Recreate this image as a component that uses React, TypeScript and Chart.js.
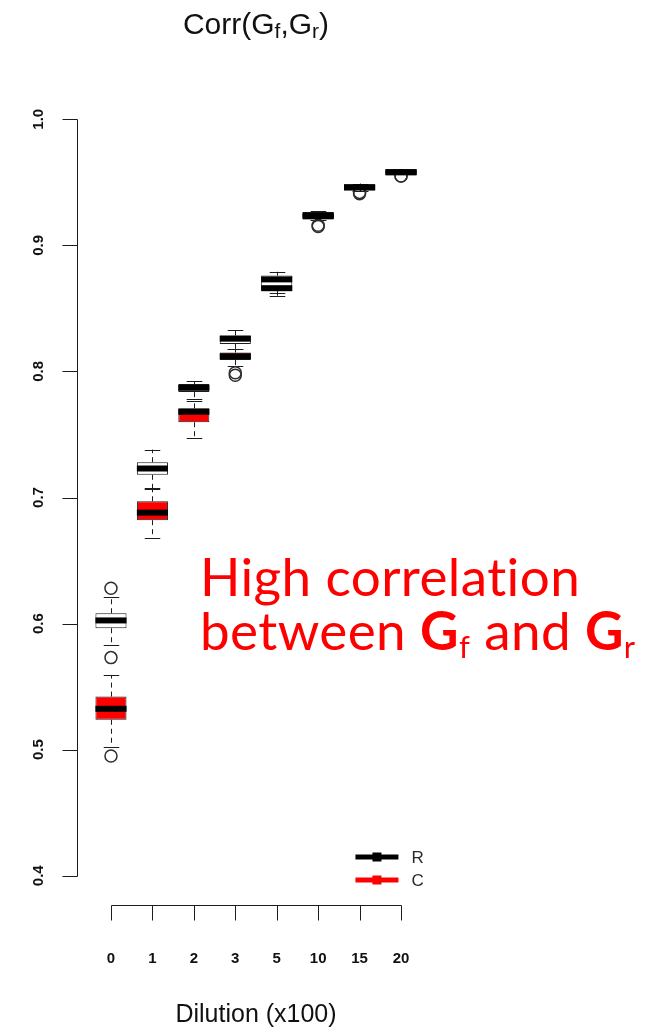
import React, { useEffect, useRef } from "react";
import { Chart, registerables } from "chart.js";

Chart.register(...registerables);

const WIDTH = 661;
const HEIGHT = 1030;

// Dilution levels (x100)
const categories = ["0", "1", "2", "3", "5", "10", "15", "20"];
const yTicks = [0.4, 0.5, 0.6, 0.7, 0.8, 0.9, 1.0];
const yTickLabels = ["0.4", "0.5", "0.6", "0.7", "0.8", "0.9", "1.0"];

// Series R: five-number summaries per dilution level
const rLowWhisker = [0.583, 0.7075, 0.778, 0.818, 0.862, 0.92, 0.943, 0.9565];
const rQ1 = [0.5963, 0.718, 0.7836, 0.8217, 0.866, 0.921, 0.944, 0.957];
const rMedian = [0.6025, 0.723, 0.787, 0.826, 0.873, 0.924, 0.946, 0.958];
const rQ3 = [0.6082, 0.728, 0.79, 0.8285, 0.876, 0.926, 0.948, 0.959];
const rHighWhisker = [0.6214, 0.738, 0.7923, 0.833, 0.879, 0.927, 0.949, 0.96];
const rOutliers = [[0.628, 0.573], [], [], [], [], [0.915], [0.941], [0.955]];

// Series C: five-number summaries per dilution level
const cLowWhisker = [0.5025, 0.668, 0.747, 0.804, 0.86, 0.92, 0.943, 0.9565];
const cQ1 = [0.5237, 0.682, 0.7597, 0.809, 0.864, 0.921, 0.944, 0.957];
const cMedian = [0.5324, 0.688, 0.768, 0.812, 0.866, 0.923, 0.946, 0.958];
const cQ3 = [0.5421, 0.697, 0.7707, 0.815, 0.868, 0.925, 0.947, 0.959];
const cHighWhisker = [0.5593, 0.7065, 0.7765, 0.818, 0.871, 0.926, 0.948, 0.959];
const cOutliers = [[0.495], [], [], [0.799, 0.797], [], [0.916], [0.942], [0.955]];

const seriesNames = ["R", "C"];
const seriesColors = ["#000000", "#ff0000"];

const INK = "#1c1c1c";
const AXIS_FONT = "'Liberation Sans', Arial, sans-serif";
const NOTE_FONT = "Lato, 'Open Sans', sans-serif";
const NOTE_COLOR = "#ff0000";

type Run = { text: string; font: string; dy?: number };

function runsWidth(ctx: CanvasRenderingContext2D, runs: Run[]) {
  let w = 0;
  for (const r of runs) {
    ctx.font = r.font;
    w += ctx.measureText(r.text).width;
  }
  return w;
}

function drawRuns(ctx: CanvasRenderingContext2D, runs: Run[], x: number, y: number) {
  let cx = x;
  ctx.textAlign = "left";
  ctx.textBaseline = "alphabetic";
  for (const r of runs) {
    ctx.font = r.font;
    ctx.fillText(r.text, cx, y + (r.dy || 0));
    cx += ctx.measureText(r.text).width;
  }
}

const summaries = [
  { low: rLowWhisker, q1: rQ1, med: rMedian, q3: rQ3, high: rHighWhisker },
  { low: cLowWhisker, q1: cQ1, med: cMedian, q3: cQ3, high: cHighWhisker },
];

// Whiskers and staples go under the boxes
const whiskerPlugin = {
  id: "whiskers",
  beforeDatasetsDraw(chart: any) {
    const ctx: CanvasRenderingContext2D = chart.ctx;
    const ys = chart.scales.y;
    summaries.forEach((s, si) => {
      const meta = chart.getDatasetMeta(si);
      meta.data.forEach((bar: any, i: number) => {
        const x = Math.round(bar.x) + 0.5;
        const half = bar.width / 4;
        ctx.save();
        ctx.strokeStyle = INK;
        ctx.lineWidth = 1;
        ctx.setLineDash([5, 4]);
        ctx.beginPath();
        ctx.moveTo(x, ys.getPixelForValue(s.q3[i]));
        ctx.lineTo(x, ys.getPixelForValue(s.high[i]));
        ctx.moveTo(x, ys.getPixelForValue(s.q1[i]));
        ctx.lineTo(x, ys.getPixelForValue(s.low[i]));
        ctx.stroke();
        ctx.setLineDash([]);
        ctx.beginPath();
        const yh = Math.round(ys.getPixelForValue(s.high[i])) + 0.5;
        const yl = Math.round(ys.getPixelForValue(s.low[i])) + 0.5;
        ctx.moveTo(x - half, yh);
        ctx.lineTo(x + half, yh);
        ctx.moveTo(x - half, yl);
        ctx.lineTo(x + half, yl);
        ctx.stroke();
        ctx.restore();
      });
    });
  },
};

// Thick median bars on top of the boxes
const medianPlugin = {
  id: "medians",
  afterDatasetsDraw(chart: any) {
    const ctx: CanvasRenderingContext2D = chart.ctx;
    const ys = chart.scales.y;
    summaries.forEach((s, si) => {
      const meta = chart.getDatasetMeta(si);
      meta.data.forEach((bar: any, i: number) => {
        const y = ys.getPixelForValue(s.med[i]);
        ctx.save();
        ctx.strokeStyle = "#000";
        ctx.lineWidth = 6;
        ctx.lineCap = "butt";
        ctx.beginPath();
        ctx.moveTo(bar.x - bar.width / 2, y);
        ctx.lineTo(bar.x + bar.width / 2, y);
        ctx.stroke();
        ctx.restore();
      });
    });
  },
};

// Axes, labels, title, legend and the note
const decorPlugin = {
  id: "decor",
  afterDraw(chart: any) {
    const ctx: any = chart.ctx;
    const xs = chart.scales.x;
    const ys = chart.scales.y;
    const area = chart.chartArea;
    const midX = (area.left + area.right) / 2;
    const tick = 15;

    ctx.save();
    ctx.strokeStyle = INK;
    ctx.fillStyle = "#111";
    ctx.lineWidth = 1;

    // y axis
    const ax = Math.round(area.left) + 0.5;
    const yTop = Math.round(ys.getPixelForValue(yTicks[yTicks.length - 1])) + 0.5;
    const yBot = Math.round(ys.getPixelForValue(yTicks[0])) + 0.5;
    ctx.beginPath();
    ctx.moveTo(ax, yTop);
    ctx.lineTo(ax, yBot);
    yTicks.forEach((v) => {
      const y = Math.round(ys.getPixelForValue(v)) + 0.5;
      ctx.moveTo(ax, y);
      ctx.lineTo(ax - tick, y);
    });
    ctx.stroke();
    ctx.font = `bold 15px ${AXIS_FONT}`;
    ctx.textAlign = "center";
    ctx.textBaseline = "middle";
    yTicks.forEach((v, k) => {
      ctx.save();
      ctx.translate(area.left - 38, ys.getPixelForValue(v));
      ctx.rotate(-Math.PI / 2);
      ctx.fillText(yTickLabels[k], 0, 0);
      ctx.restore();
    });

    // x axis
    const by = Math.round(area.bottom) - 0.5;
    const x0 = Math.round(xs.getPixelForValue(0)) + 0.5;
    const x1 = Math.round(xs.getPixelForValue(categories.length - 1)) + 0.5;
    ctx.beginPath();
    ctx.moveTo(x0, by);
    ctx.lineTo(x1, by);
    categories.forEach((_, i) => {
      const x = Math.round(xs.getPixelForValue(i)) + 0.5;
      ctx.moveTo(x, by);
      ctx.lineTo(x, by + tick);
    });
    ctx.stroke();
    ctx.textBaseline = "alphabetic";
    categories.forEach((c, i) => {
      ctx.fillText(c, xs.getPixelForValue(i), area.bottom + 57);
    });

    // axis title
    ctx.font = `25px ${AXIS_FONT}`;
    ctx.fillText("Dilution (x100)", midX, area.bottom + 116);

    // main title with subscripts
    const tBig = `30px ${AXIS_FONT}`;
    const tSmall = `21px ${AXIS_FONT}`;
    const titleRuns: Run[] = [
      { text: "Corr(G", font: tBig },
      { text: "f", font: tSmall, dy: 4 },
      { text: ",G", font: tBig },
      { text: "r", font: tSmall, dy: 4 },
      { text: ")", font: tBig },
    ];
    const tw = runsWidth(ctx, titleRuns);
    drawRuns(ctx, titleRuns, midX - tw / 2, 34);

    // legend
    const lx1 = xs.getPixelForValue(5.9);
    const lx2 = lx1 + 43;
    const lys = [857, 880];
    seriesNames.forEach((name, k) => {
      const y = lys[k];
      ctx.strokeStyle = seriesColors[k];
      ctx.fillStyle = seriesColors[k];
      ctx.lineWidth = 5;
      ctx.beginPath();
      ctx.moveTo(lx1, y);
      ctx.lineTo(lx2, y);
      ctx.stroke();
      ctx.fillRect((lx1 + lx2) / 2 - 4.5, y - 4.5, 9, 9);
      ctx.fillStyle = "#2a2a2a";
      ctx.font = `17px ${AXIS_FONT}`;
      ctx.textAlign = "left";
      ctx.textBaseline = "middle";
      ctx.fillText(name, lx2 + 13, y + 1);
    });

    // note
    ctx.fillStyle = NOTE_COLOR;
    ctx.letterSpacing = "0.4px";
    const nBig = `53px ${NOTE_FONT}`;
    const nBold = `bold 53px ${NOTE_FONT}`;
    const nSub = `31px ${NOTE_FONT}`;
    drawRuns(ctx, [{ text: "High correlation", font: nBig }], 200, 596);
    drawRuns(
      ctx,
      [
        { text: "between ", font: nBig },
        { text: "G", font: nBold },
        { text: "f", font: nSub, dy: 8 },
        { text: " and ", font: nBig },
        { text: "G", font: nBold },
        { text: "r", font: nSub, dy: 8 },
      ],
      200,
      650
    );
    ctx.letterSpacing = "0px";
    ctx.restore();
  },
};

function toPoints(groups: number[][]) {
  return groups.flatMap((vals, i) => vals.map((v) => ({ x: i, y: v })));
}

export default function App() {
  const canvasRef = useRef<HTMLCanvasElement | null>(null);

  useEffect(() => {
    const canvas = canvasRef.current;
    if (!canvas) return;
    const boxData = (q1: number[], q3: number[]) =>
      categories.map((_, i) => ({ x: i, y: [q1[i], q3[i]] }));

    const chart = new Chart(canvas, {
      type: "bar",
      data: {
        datasets: [
          {
            label: seriesNames[0],
            data: boxData(rQ1, rQ3) as any,
            backgroundColor: "#ffffff",
            borderColor: INK,
            borderWidth: 1,
            borderSkipped: false,
            grouped: false,
            barPercentage: 0.75,
            categoryPercentage: 1,
            order: 4,
          },
          {
            label: seriesNames[1],
            data: boxData(cQ1, cQ3) as any,
            backgroundColor: seriesColors[1],
            borderColor: INK,
            borderWidth: 1,
            borderSkipped: false,
            grouped: false,
            barPercentage: 0.75,
            categoryPercentage: 1,
            order: 3,
          },
          {
            type: "scatter",
            label: seriesNames[0] + " outliers",
            data: toPoints(rOutliers) as any,
            pointStyle: "circle",
            pointRadius: 6,
            pointBorderWidth: 1.5,
            pointBorderColor: "#2e2e2e",
            pointBackgroundColor: "rgba(0,0,0,0)",
            order: 2,
          } as any,
          {
            type: "scatter",
            label: seriesNames[1] + " outliers",
            data: toPoints(cOutliers) as any,
            pointStyle: "circle",
            pointRadius: 6,
            pointBorderWidth: 1.5,
            pointBorderColor: "#2e2e2e",
            pointBackgroundColor: "rgba(0,0,0,0)",
            order: 1,
          } as any,
        ],
      },
      options: {
        animation: false,
        responsive: false,
        maintainAspectRatio: false,
        events: [],
        layout: { padding: { left: 77, right: 226, top: 89, bottom: 124 } },
        plugins: {
          legend: { display: false },
          title: { display: false },
          tooltip: { enabled: false },
        },
        scales: {
          x: {
            type: "linear",
            min: -0.82,
            max: 7.82,
            offset: false,
            display: false,
            ticks: { stepSize: 1, includeBounds: false },
          },
          y: {
            type: "linear",
            min: 0.376,
            max: 1.024,
            display: false,
          },
        },
      },
      plugins: [whiskerPlugin, medianPlugin, decorPlugin],
    });
    return () => chart.destroy();
  }, []);

  return (
    <div style={{ position: "absolute", left: 0, top: 0, width: WIDTH, height: HEIGHT, background: "#fff" }}>
      <canvas ref={canvasRef} width={WIDTH} height={HEIGHT} style={{ display: "block" }} />
    </div>
  );
}
